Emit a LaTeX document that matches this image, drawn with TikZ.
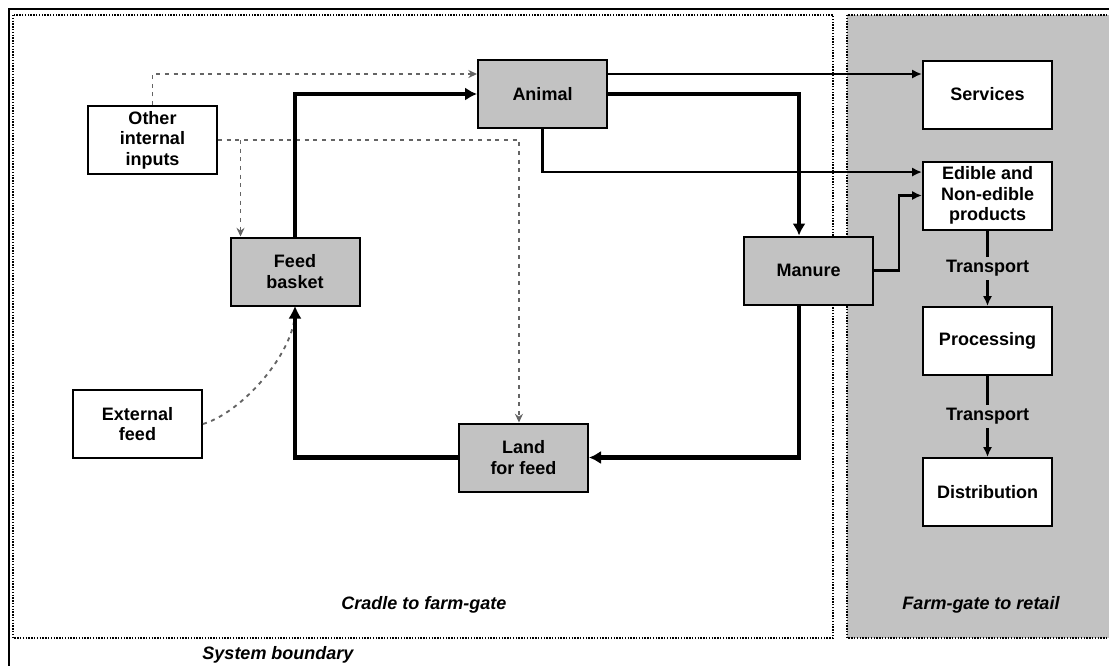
\documentclass[tikz,border=0pt]{standalone}
\usepackage{fontspec}
\setmainfont{Liberation Sans}
\usetikzlibrary{arrows.meta}

\definecolor{boxgray}{RGB}{194,194,194}
\definecolor{dashgray}{RGB}{100,100,100}

\begin{document}
\begin{tikzpicture}[x=0.75pt,y=-0.75pt,
		box/.style={draw=black,line width=1.5pt,minimum width=96.75pt,minimum height=51pt,inner sep=0pt,align=center,font=\fontsize{13.5}{15.4}\selectfont\bfseries},
		stage/.style={box,fill=boxgray},
		outcome/.style={box,fill=white},
		flow/.style={line width=3.4pt,-{Latex[length=9pt,width=10pt]}},
		thinflow/.style={line width=1.7pt,-{Latex[length=7.5pt,width=7pt]}},
		extra/.style={dashgray,line width=1.4pt,dash pattern=on 3pt off 3.5pt,-{Stealth[length=6.5pt,width=6pt]}},
		boundary/.style={line width=1.1pt,dash pattern=on 1pt off 1.1pt},
		tag/.style={font=\fontsize{13.5}{15}\selectfont\bfseries\itshape},
		leg/.style={fill=boxgray,inner sep=2.5pt,font=\fontsize{13.5}{15}\selectfont\bfseries}]
				\useasboundingbox (0,0) rectangle (1109,665);
				\clip (0,0) rectangle (1109,665);
				\fill[white] (0,0) rectangle (1109,665);
				
				\draw[line width=1.8pt] (1120,9) -- (9,9) -- (9,680);
				\draw[boundary] (13,15) rectangle (833,638);
				\draw[boundary,fill=boxgray] (847,15) rectangle (1120,638);
				
				\node[outcome] (other) at (152.5,140) {Other\\internal\\inputs};
				\node[stage] (animal) at (542.5,94) {Animal};
				\node[stage] (feed) at (295,271.5) {Feed\\basket};
				\node[outcome] (external) at (137.5,424) {External\\feed};
				\node[stage] (land) at (523.5,457.5) {Land\\for feed};
				\node[stage] (manure) at (808.5,270.5) {Manure};
				
				\node[outcome] (services) at (987.5,94.5) {Services};
				\node[outcome] (products) at (987.5,195.5) {Edible and\\Non-edible\\products};
				\node[outcome] (processing) at (987.5,341) {Processing};
				\node[outcome] (distribution) at (987.5,492) {Distribution};
				
				\node[tag] (cradle) at (424,605) {Cradle to farm-gate};
				\node[tag] (retail) at (981,605) {Farm-gate to retail};
				\node[tag] (sysbound) at (278,655) {System boundary};
				
				\coordinate (split) at ([xshift=8.25pt]feed.north west);
				\coordinate (tosvc) at ([yshift=15pt]animal.east);
				\draw[extra] (other.north) |- ([yshift=15pt]animal.west);
				\draw[extra] (other.east) -| ([xshift=-3.4pt]land.north);
				\draw[extra] (split |- other.east) -- (split);
				\draw[extra] (external.east) .. controls +(40,-12) and +(0,45) .. (feed.south);
				
				\draw[flow] (feed.north) |- (animal.west);
				\draw[flow] (animal.east) -| ([xshift=-7.1pt]manure.north);
				\draw[flow] ([xshift=-7.1pt]manure.south) |- (land.east);
				\draw[flow] (land.west) -| (feed.south);
				
				\draw[thinflow] (tosvc) -- (tosvc -| services.west);
				\draw[thinflow] (animal.south) |- ([yshift=17.6pt]products.west);
				\draw[thinflow] (manure.east) -- ++(25,0) |- (products.west);
				\draw[thinflow] (products.south) -- node[leg] {Transport} (processing.north);
				\draw[thinflow] (processing.south) -- node[leg] {Transport} (distribution.north);
			\end{tikzpicture}
\end{document}
